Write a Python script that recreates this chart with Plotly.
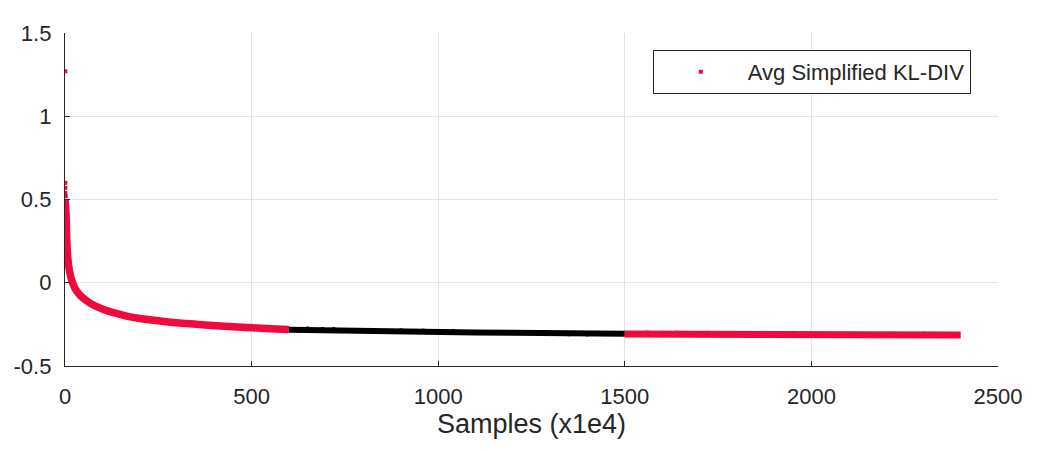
'''
Avg simplified KL-divergence vs samples
'''

import plotly.graph_objects as go

# ========= DATA =========

# first red stretch of the curve
red1_x = [0, 1.5, 2.7, 4.5, 7.2, 11.6, 17.9, 26.8, 40, 58, 76, 103, 130, 165,
          210, 255, 299, 344, 406, 450, 500, 550, 600]
red1_y = [0.50, 0.46, 0.416, 0.276, 0.156, 0.076, 0.016, -0.034, -0.074, -0.108,
          -0.134, -0.160, -0.180, -0.200, -0.218, -0.230, -0.240, -0.248,
          -0.258, -0.264, -0.270, -0.276, -0.281]

# black middle stretch
black_x = [600, 700, 800, 900, 1000, 1100, 1200, 1300, 1400, 1500]
black_y = [-0.282, -0.287, -0.291, -0.294, -0.297, -0.299, -0.301, -0.303,
           -0.305, -0.307]

# last red stretch
red2_x = [1500, 1600, 1700, 1800, 1900, 2000, 2100, 2200, 2300, 2400]
red2_y = [-0.308, -0.309, -0.310, -0.311, -0.312, -0.312, -0.313, -0.313,
          -0.314, -0.314]

# scattered single samples
red_dot_x = [1, 1, 1, 1, 2, 2, 3, 3, 4, 5, 6, 1560, 1600, 1640, 1700, 1720,
             1950, 2300]
red_dot_y = [1.27, 0.60, 0.57, 0.54, 0.52, 0.44, 0.38, 0.32, 0.26, 0.22, 0.18,
             -0.300, -0.301, -0.300, -0.302, -0.301, -0.303, -0.306]
black_dot_x = [650, 690, 720, 880, 900, 940, 960, 1000, 1010, 1040, 1350, 1400,
               1430, 1460]
black_dot_y = [-0.272, -0.275, -0.276, -0.298, -0.283, -0.286, -0.285, -0.288,
               -0.287, -0.288, -0.312, -0.313, -0.298, -0.300]

x_ticks = [0, 500, 1000, 1500, 2000, 2500]
y_ticks = [-0.5, 0, 0.5, 1, 1.5]
y_labels = ['-0.5', '0', '0.5', '1', '1.5']

series_name = 'Avg Simplified KL-DIV'
x_title = 'Samples (x1e4)'

# ========= STYLE =========
RED = '#EE0A3C'
BLACK = '#000000'
TXT = '#262626'
FONT = 'Liberation Sans, Arial, sans-serif'

fig = go.Figure()

fig.add_trace(go.Scatter(x=red1_x, y=red1_y, mode='lines', showlegend=False,
                         line={'color': RED, 'width': 7.5, 'shape': 'spline',
                               'smoothing': 0.6},
                         hoverinfo='skip'))
fig.add_trace(go.Scatter(x=black_x, y=black_y, mode='lines', showlegend=False,
                         line={'color': BLACK, 'width': 6}, hoverinfo='skip'))
fig.add_trace(go.Scatter(x=red2_x, y=red2_y, mode='lines', showlegend=False,
                         line={'color': RED, 'width': 7}, hoverinfo='skip'))
fig.add_trace(go.Scatter(x=black_dot_x, y=black_dot_y, mode='markers',
                         showlegend=False,
                         marker={'color': BLACK, 'size': 3, 'symbol': 'square'}))
fig.add_trace(go.Scatter(x=red_dot_x, y=red_dot_y, mode='markers',
                         name=series_name,
                         marker={'color': RED, 'size': 4, 'symbol': 'square'}))

axis_common = dict(showgrid=True, gridcolor='#e3e3e3', gridwidth=1,
                   zeroline=False, showline=True, linecolor=TXT, linewidth=1.3,
                   ticks='inside', ticklen=5, tickcolor=TXT, tickwidth=1,
                   tickfont={'family': FONT, 'size': 22, 'color': TXT},
                   ticklabelstandoff=8, automargin=False)

# the page body adds an 8px offset, so margins are shifted by that much
fig.update_layout(
    width=1041, height=451,
    margin={'l': 57, 'r': 51, 't': 25, 'b': 93},
    paper_bgcolor='#ffffff', plot_bgcolor='#ffffff',
    font={'family': FONT, 'color': TXT},
    xaxis=dict(axis_common, range=[0, 2500], tickvals=x_ticks,
               ticklabelstandoff=10,
               title={'text': x_title, 'font': {'family': FONT, 'size': 27,
                                                'color': TXT},
                      'standoff': 2}),
    yaxis=dict(axis_common, range=[-0.5, 1.5], tickvals=y_ticks,
               ticktext=y_labels),
    legend=dict(x=0.630, y=0.949, xanchor='left', yanchor='top',
                bgcolor='#ffffff', bordercolor=TXT, borderwidth=1,
                itemwidth=84, font={'family': FONT, 'size': 22, 'color': TXT}),
    showlegend=True,
)

fig.write_html('out.html')
